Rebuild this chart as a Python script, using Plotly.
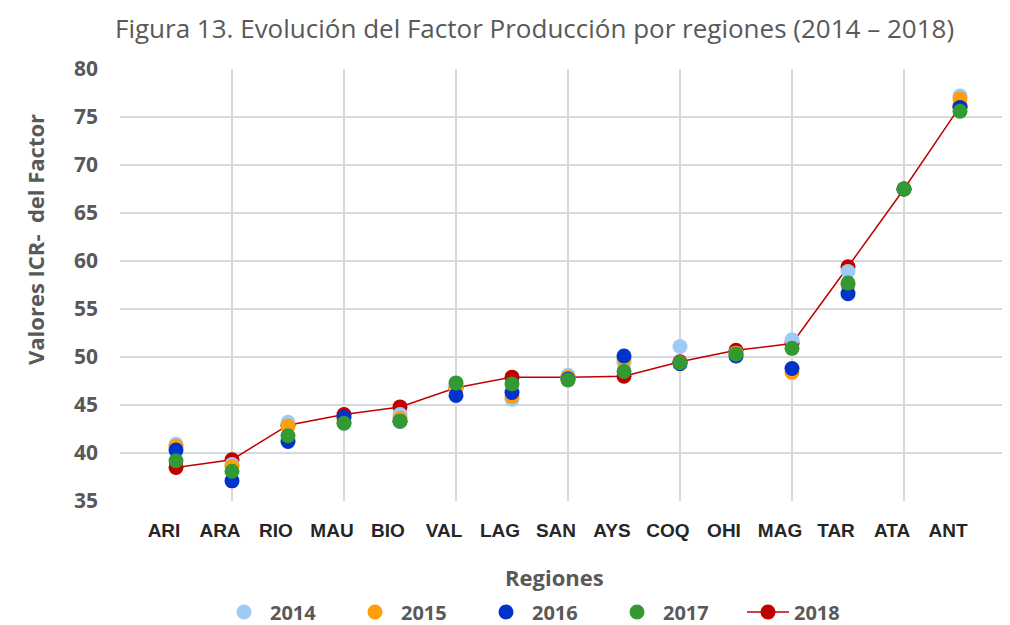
import plotly.graph_objects as go

regions = ["ARI", "ARA", "RIO", "MAU", "BIO", "VAL", "LAG", "SAN", "AYS", "COQ", "OHI", "MAG", "TAR", "ATA", "ANT"]
v2014 = [40.9, 38.8, 43.2, 43.1, 44.0, 47.0, 45.6, 48.1, 49.4, 51.1, 50.4, 51.8, 58.9, 67.5, 77.2]
v2015 = [40.7, 38.6, 42.8, 43.3, 43.6, 46.7, 45.9, 47.9, 49.8, 49.4, 50.4, 48.4, 57.5, 67.5, 76.9]
v2016 = [40.3, 37.1, 41.2, 43.7, 43.3, 46.0, 46.3, 47.7, 50.1, 49.3, 50.1, 48.8, 56.6, 67.5, 76.0]
v2017 = [39.2, 38.1, 41.8, 43.1, 43.3, 47.3, 47.2, 47.6, 48.5, 49.4, 50.3, 50.9, 57.7, 67.5, 75.6]
v2018 = [38.5, 39.3, 42.9, 44.0, 44.8, 46.8, 47.9, 47.9, 48.0, 49.5, 50.7, 51.4, 59.4, 67.5, 76.1]
years = ["2014", "2015", "2016", "2017", "2018"]
colors = ["#9DCBF5", "#FF9E0B", "#0033CC", "#339933", "#C00000"]

xpos = list(range(1, len(regions) + 1))

# page has an 8px body margin; figure coordinates = page - 8
OFF = 8
W, H = 1010 - OFF, 625 - OFF
L, T = 120 - OFF, 69 - OFF
PH = 432
B = H - T - PH
PW = W - L


def px_x(page_x):
    return (page_x - OFF - L) / PW


def px_y(page_y):
    return (T + PH - (page_y - OFF)) / PH


fig = go.Figure()

# 2018 drawn first (line + markers) so other years sit on top; legend order by rank
fig.add_trace(go.Scatter(
    x=xpos, y=v2018, name=years[4], mode="lines+markers",
    line=dict(color=colors[4], width=1.5),
    marker=dict(color=colors[4], size=15),
    legendrank=5,
))
for i, vals in enumerate([v2014, v2015, v2016, v2017]):
    fig.add_trace(go.Scatter(
        x=xpos, y=vals, name=years[i], mode="markers",
        marker=dict(color=colors[i], size=15),
        legendrank=i + 1,
    ))

# invisible trace to anchor the label axis
fig.add_trace(go.Scatter(x=xpos, y=v2018, xaxis="x2", mode="markers",
                         marker=dict(opacity=0), showlegend=False, hoverinfo="skip"))

xr = [0, PW / 56.0]
legfont = dict(family="Open Sans, sans-serif", size=20, color="#595959", weight="bold")

fig.update_layout(
    width=W, height=H,
    paper_bgcolor="white", plot_bgcolor="white",
    margin=dict(l=L, r=0, t=T, b=B, autoexpand=False),
    showlegend=True,
    xaxis=dict(range=xr, tick0=0, dtick=2, showgrid=True, gridcolor="#D9D9D9", gridwidth=2,
               showticklabels=False, zeroline=False, showline=False, ticks="", automargin=False),
    xaxis2=dict(range=xr, overlaying="x", side="bottom", tickvals=xpos, ticktext=regions,
                showgrid=False, zeroline=False, showline=False, ticks="", automargin=False,
                tickfont=dict(family="Liberation Sans Narrow, Arial Narrow, sans-serif", size=19,
                              color="#262626", weight="bold"),
                ticklabelshift=-12, ticklabelstandoff=16),
    yaxis=dict(range=[35, 80], dtick=5, showgrid=True, gridcolor="#D9D9D9", gridwidth=2,
               zeroline=False, showline=False, ticks="", automargin=False,
               tickfont=dict(family="Open Sans, sans-serif", size=21, color="#595959", weight="bold"),
               ticklabelstandoff=21),
    legend=dict(orientation="h", x=px_x(238 - 20), xanchor="left", y=px_y(612), yanchor="middle",
                font=legfont, itemwidth=42, entrywidth=74, bgcolor="rgba(0,0,0,0)"),
    annotations=[
        dict(text="Figura 13. Evolución del Factor Producción por regiones (2014 – 2018)",
             xref="paper", yref="paper", x=px_x(534), y=px_y(28),
             xanchor="center", yanchor="middle", showarrow=False,
             font=dict(family="Open Sans, sans-serif", size=26, color="#595959")),
        dict(text="Valores ICR-  del Factor", xref="paper", yref="paper",
             x=px_x(35), y=px_y(240), textangle=-90,
             xanchor="center", yanchor="middle", showarrow=False,
             font=dict(family="Open Sans, sans-serif", size=22, color="#595959", weight="bold")),
        dict(text="Regiones", xref="paper", yref="paper",
             x=px_x(554), y=px_y(577),
             xanchor="center", yanchor="middle", showarrow=False,
             font=dict(family="Open Sans, sans-serif", size=22, color="#595959", weight="bold")),
    ],
)

fig.write_html("out.html")
